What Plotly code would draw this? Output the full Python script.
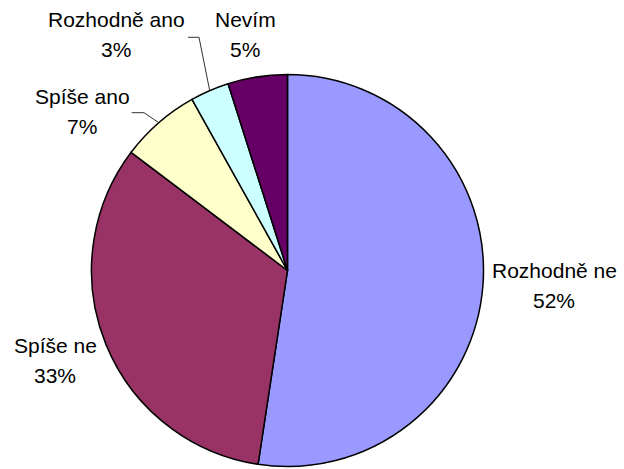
import math
import plotly.graph_objects as go

# ---- data ----
categories = ["Rozhodně ne", "Spíše ne", "Spíše ano", "Rozhodně ano", "Nevím"]
values = [52.4, 32.9, 6.6, 3.2, 4.9]
colors = ["#9999FF", "#993366", "#FFFFCC", "#CCFFFF", "#660066"]

# ---- layout constants (pixels) ----
W, H = 624, 469
CX, CY, R = 287.5, 270.5, 196
FS = 21
LINE_GAP = 30
# label block centre x and first-line baseline y
label_pos = {
    "Rozhodně ne": (554, 277.7),
    "Spíše ne": (55, 353),
    "Spíše ano": (82, 103.3),
    "Rozhodně ano": (116, 26.7),
    "Nevím": (245, 26.7),
}
# leader lines: (x_start, x_elbow, y) of the horizontal part
leaders = {
    "Rozhodně ano": (188, 199, 37.3),
    "Spíše ano": (131.7, 144, 112.7),
}

total = sum(values)
fig = go.Figure()
fig.add_trace(go.Pie(
    labels=categories, values=values, sort=False, direction="clockwise",
    rotation=0, marker=dict(colors=colors, line=dict(color="black", width=1.5)),
    textinfo="none", hoverinfo="label+percent", showlegend=False,
    domain=dict(x=[(CX - R) / W, (CX + R) / W],
                y=[(H - CY - R) / H, (H - CY + R) / H]),
))

annotations = []
shapes = []
cum = 0.0
for name, v in zip(categories, values):
    mid = (cum + v / 2) / total * 2 * math.pi
    cum += v
    pct = f"{round(v / total * 100)}%"
    lx, ly = label_pos[name]
    off = 0.3465 * FS
    for txt, yy in ((name, ly - off), (pct, ly + LINE_GAP - off)):
        annotations.append(dict(x=lx, y=yy, xref="x", yref="y", text=txt,
                                showarrow=False, xanchor="center", yanchor="middle",
                                font=dict(family="Liberation Sans, Arial", size=FS, color="black")))
    if name in leaders:
        x0, x1, yl = leaders[name]
        ex = CX + R * math.sin(mid)
        ey = CY - R * math.cos(mid)
        shapes.append(dict(type="path", xref="x", yref="y",
                           path=f"M {x0} {yl} L {x1} {yl} L {ex:.1f} {ey:.1f}",
                           line=dict(color="#333333", width=1)))

fig.update_layout(
    width=W, height=H, margin=dict(l=0, r=0, t=0, b=0),
    paper_bgcolor="white", plot_bgcolor="white",
    xaxis=dict(range=[0, W], visible=False, fixedrange=True),
    yaxis=dict(range=[H, 0], visible=False, fixedrange=True),
    annotations=annotations, shapes=shapes,
)
fig.write_html("out.html", config={"displayModeBar": False},
               post_script="document.body.style.margin='0';document.body.style.overflow='hidden';")
